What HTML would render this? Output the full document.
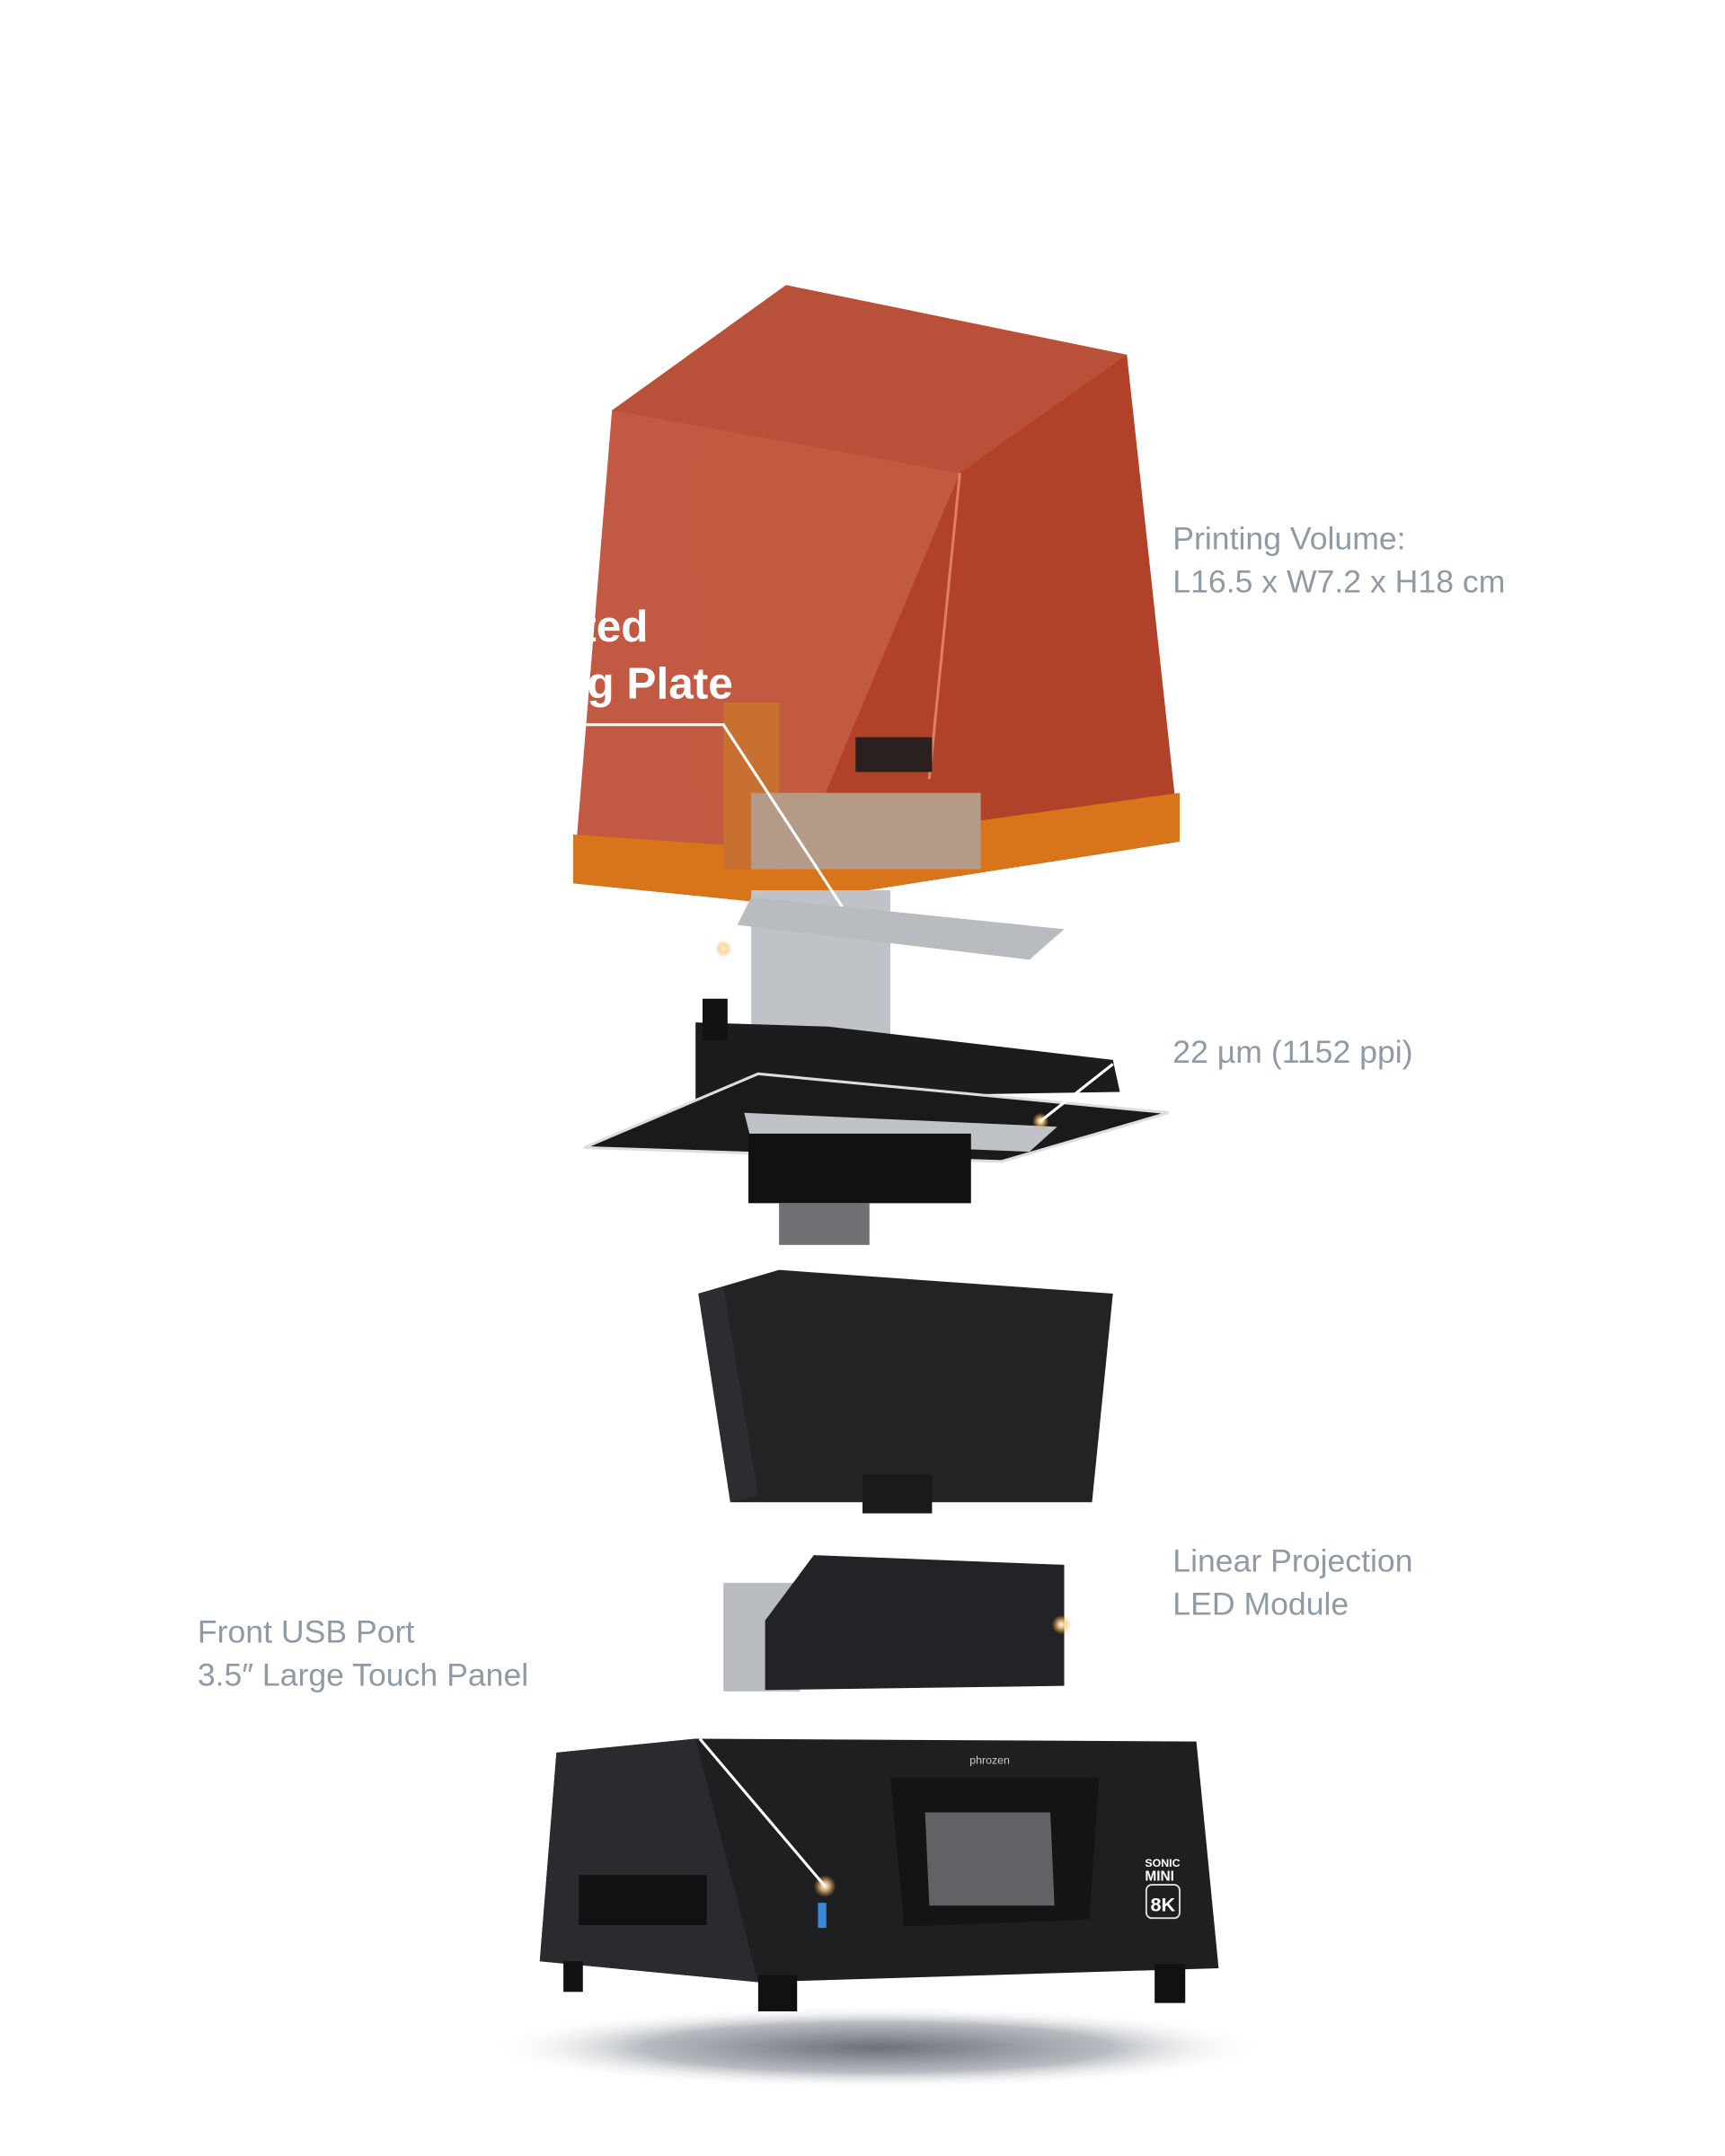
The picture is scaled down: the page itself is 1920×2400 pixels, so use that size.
<!DOCTYPE html>
<html><head><meta charset="utf-8"><style>
html,body{margin:0;padding:0;background:#fff;}
svg{display:block;}
text{font-family:"Liberation Sans",sans-serif;}
</style></head><body>
<svg width="1920" height="2400" viewBox="0 0 1240 1550" preserveAspectRatio="none" xmlns="http://www.w3.org/2000/svg">
<defs>
<radialGradient id="sh" cx="50%" cy="50%" r="50%"><stop offset="0" stop-color="#6b7078"/><stop offset="0.6" stop-color="#b8bcc2"/><stop offset="1" stop-color="#fff" stop-opacity="0"/></radialGradient>
<linearGradient id="oc" x1="0" y1="0" x2="1" y2="0"><stop offset="0" stop-color="#c8553c"/><stop offset="0.45" stop-color="#b84a30"/><stop offset="1" stop-color="#c04a28"/></linearGradient>
<radialGradient id="gl"><stop offset="0" stop-color="#fff"/><stop offset="0.4" stop-color="#ffd08a" stop-opacity="0.8"/><stop offset="1" stop-color="#ff9a30" stop-opacity="0"/></radialGradient>
</defs>
<rect width="1240" height="1550" fill="#fff"/>
<ellipse cx="630" cy="1472" rx="280" ry="30" fill="url(#sh)"/>
<!-- orange cover -->
<polygon points="565,205 810,255 848,605 560,650 412,635 440,295" fill="url(#oc)"/>
<polygon points="565,205 810,255 690,340 440,295" fill="#b8503a"/>
<polygon points="440,295 690,340 560,650 412,635" fill="#c25a42" opacity="0.95"/>
<polygon points="690,340 810,255 848,605 560,650" fill="#b2412a"/>
<polygon points="412,600 560,610 848,570 848,605 560,650 412,635" fill="#d8741a"/>
<line x1="690" y1="340" x2="668" y2="560" stroke="#e0805a" stroke-width="2"/>
<rect x="520" y="505" width="40" height="120" fill="#c77030"/>
<rect x="540" y="570" width="165" height="55" fill="#b59a88"/>
<rect x="615" y="530" width="55" height="25" fill="#2a2020"/>
<rect x="540" y="640" width="100" height="110" fill="#bfc3c8"/>
<text x="418" y="461" font-size="32" font-weight="bold" fill="#fff">ted</text>
<text x="422" y="502" font-size="32" font-weight="bold" fill="#fff">g Plate</text>
<polyline points="412,521 520,521 612,662" fill="none" stroke="#fff" stroke-width="2"/>
<circle cx="612" cy="662" r="3" fill="#fff"/>
<polygon points="540,645 765,668 740,690 530,665" fill="#b8bcc0"/>
<circle cx="520" cy="682" r="6" fill="url(#gl)"/>
<!-- vat -->
<polygon points="500,735 595,738 800,762 805,785 500,790" fill="#1c1c1e"/>
<rect x="505" y="718" width="18" height="30" fill="#111"/>
<polygon points="420,825 545,772 840,800 720,835" fill="#1a1a1a" stroke="#ddd" stroke-width="2"/>
<polygon points="535,800 760,810 740,828 540,820" fill="#bfc2c6"/>
<rect x="538" y="815" width="160" height="50" fill="#111"/>
<rect x="560" y="865" width="65" height="30" fill="#6e7074"/>
<circle cx="748" cy="806" r="6" fill="url(#gl)"/>
<line x1="748" y1="806" x2="800" y2="765" stroke="#fff" stroke-width="2"/>
<!-- housing -->
<polygon points="502,930 560,913 800,930 785,1080 525,1080" fill="#222325"/>
<polygon points="502,930 520,925 545,1075 525,1080" fill="#2c2d30"/>
<rect x="620" y="1060" width="50" height="28" fill="#1a1a1a"/>
<!-- LED module -->
<rect x="520" y="1138" width="55" height="78" fill="#b8bcc0"/>
<polygon points="585,1118 765,1125 765,1212 550,1215 550,1165" fill="#222326"/>
<circle cx="763" cy="1168" r="7" fill="url(#gl)"/>
<!-- base -->
<polygon points="400,1260 500,1250 860,1252 876,1415 545,1425 388,1410" fill="#1e1f21"/>
<polygon points="400,1260 500,1250 545,1425 388,1410" fill="#2a2b2e"/>
<rect x="416" y="1348" width="92" height="36" fill="#111"/>
<rect x="405" y="1410" width="14" height="22" fill="#111"/>
<rect x="545" y="1420" width="28" height="26" fill="#111"/>
<rect x="830" y="1412" width="22" height="28" fill="#111"/>
<polygon points="640,1278 790,1278 783,1380 650,1385" fill="#141414"/>
<polygon points="665,1303 755,1303 758,1370 668,1370" fill="#606266"/>
<text x="697" y="1268" font-size="8" fill="#ccc">phrozen</text>
<text x="823" y="1342" font-size="8" font-weight="bold" fill="#fff">SONIC</text>
<text x="823" y="1352" font-size="10" font-weight="bold" fill="#fff">MINI</text>
<rect x="824" y="1355" width="24" height="24" rx="4" fill="none" stroke="#ddd" stroke-width="1.2"/>
<text x="827" y="1374" font-size="14" font-weight="bold" fill="#fff">8K</text>
<rect x="588" y="1368" width="6" height="18" fill="#3a8ad8"/>
<circle cx="593" cy="1356" r="8" fill="url(#gl)"/>
<line x1="503" y1="1250" x2="593" y2="1356" stroke="#fff" stroke-width="2"/>
<g fill="#8f9aa4" font-size="23">
<text x="843" y="395">Printing Volume:</text>
<text x="843" y="426">L16.5 x W7.2 x H18 cm</text>
<text x="843" y="764">22 µm (1152 ppi)</text>
<text x="843" y="1130">Linear Projection</text>
<text x="843" y="1161">LED Module</text>
<text x="142" y="1181">Front USB Port</text>
<text x="142" y="1212">3.5″ Large Touch Panel</text>
</g>
</svg>
</body></html>
